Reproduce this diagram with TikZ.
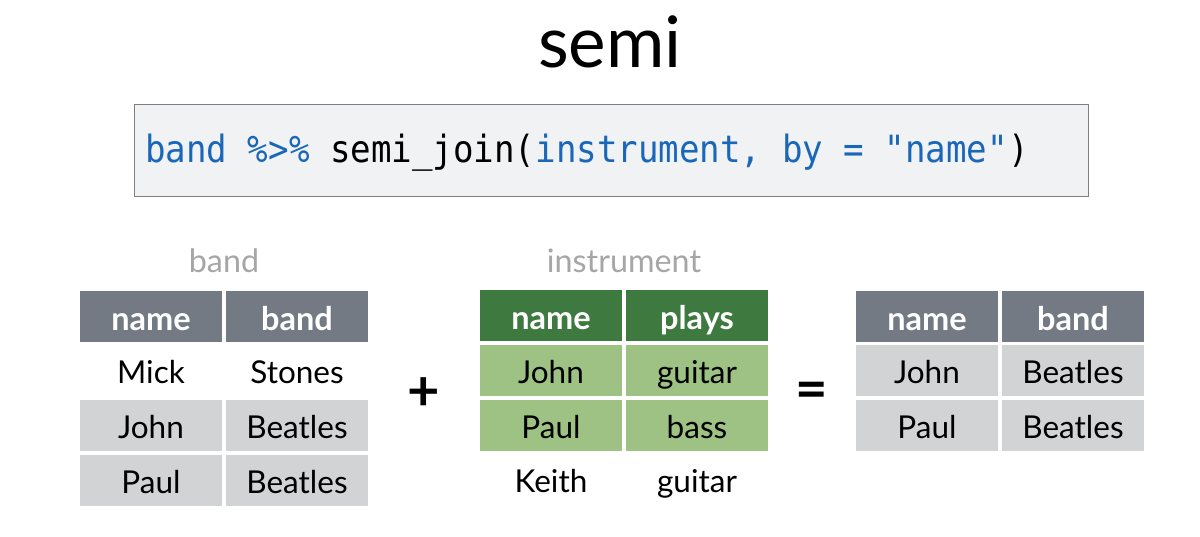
\documentclass[tikz,border=0pt]{standalone}
\usepackage{fontspec}
\setmainfont{Lato}
\newfontfamily\codefont[FakeStretch=0.91]{DejaVu Sans Mono}
\definecolor{hdrgrey}{HTML}{737A84}
\definecolor{rowgrey}{HTML}{D2D3D5}
\definecolor{hdrgreen}{HTML}{3E7A40}
\definecolor{rowgreen}{HTML}{9DC283}
\definecolor{codebg}{HTML}{F0F2F4}
\definecolor{codeborder}{HTML}{7F7F7F}
\definecolor{codeblue}{HTML}{1A66B8}
\definecolor{lblgrey}{HTML}{A6A6A6}
\tikzset{
  cell/.style={minimum width=142pt, minimum height=51pt, inner sep=0pt, outer sep=0pt,
    font=\fontsize{31.5}{34}\selectfont, text height=26pt, text depth=0pt},
  hdr/.style={cell, text=white, font=\fontsize{32.5}{34}\selectfont\bfseries, text height=28pt},
  tlabel/.style={text=lblgrey, font=\fontsize{32.3}{34}\selectfont, anchor=base},
  opsign/.style={font=\fontsize{56}{58}\selectfont\bfseries}
}
\begin{document}
\begin{tikzpicture}[x=1pt,y=-1pt]
\useasboundingbox[fill=white] (0,0) rectangle (1200,536);
% title
\node[anchor=base, font=\fontsize{71}{74}\selectfont] (title) at (610,67) {semi};
% code box
\node[draw=codeborder, line width=1pt, fill=codebg, minimum width=954pt, minimum height=92pt, anchor=north west, inner sep=0pt] (code) at (134,104) {};
\node[anchor=base west, inner sep=0pt, font=\codefont\fontsize{37.5}{40}\selectfont] (codetext) at (145,162.5)
  {\textcolor{codeblue}{band \%>\%} semi\_join(\textcolor{codeblue}{instrument, by = "name"})};
% band table
\node[tlabel] (lband) at (224,272) {band};
\node[hdr, fill=hdrgrey] (b11) at (151,316) {name};
\node[hdr, fill=hdrgrey] (b12) at (297,316) {band};
\node[cell] (b21) at (151,370.5) {Mick};
\node[cell] (b22) at (297,370.5) {Stones};
\node[cell, fill=rowgrey] (b31) at (151,425.5) {John};
\node[cell, fill=rowgrey] (b32) at (297,425.5) {Beatles};
\node[cell, fill=rowgrey] (b41) at (151,480) {Paul};
\node[cell, fill=rowgrey] (b42) at (297,480) {Beatles};
% plus
\node[opsign] (plus) at (424,394) {+};
% instrument table
\node[tlabel] (linst) at (624,272) {instrument};
\node[hdr, fill=hdrgreen] (i11) at (551,315) {name};
\node[hdr, fill=hdrgreen] (i12) at (697,315) {plays};
\node[cell, fill=rowgreen] (i21) at (551,370) {John};
\node[cell, fill=rowgreen] (i22) at (697,370) {guitar};
\node[cell, fill=rowgreen] (i31) at (551,425) {Paul};
\node[cell, fill=rowgreen] (i32) at (697,425) {bass};
\node[cell] (i41) at (551,479) {Keith};
\node[cell] (i42) at (697,479) {guitar};
% equals
\node[opsign] (eq) at (812,395) {=};
% result table
\node[hdr, fill=hdrgrey] (r11) at (927,316) {name};
\node[hdr, fill=hdrgrey] (r12) at (1073,316) {band};
\node[cell, fill=rowgrey] (r21) at (927,370.5) {John};
\node[cell, fill=rowgrey] (r22) at (1073,370.5) {Beatles};
\node[cell, fill=rowgrey] (r31) at (927,425.5) {Paul};
\node[cell, fill=rowgrey] (r32) at (1073,425.5) {Beatles};
\end{tikzpicture}
\end{document}
